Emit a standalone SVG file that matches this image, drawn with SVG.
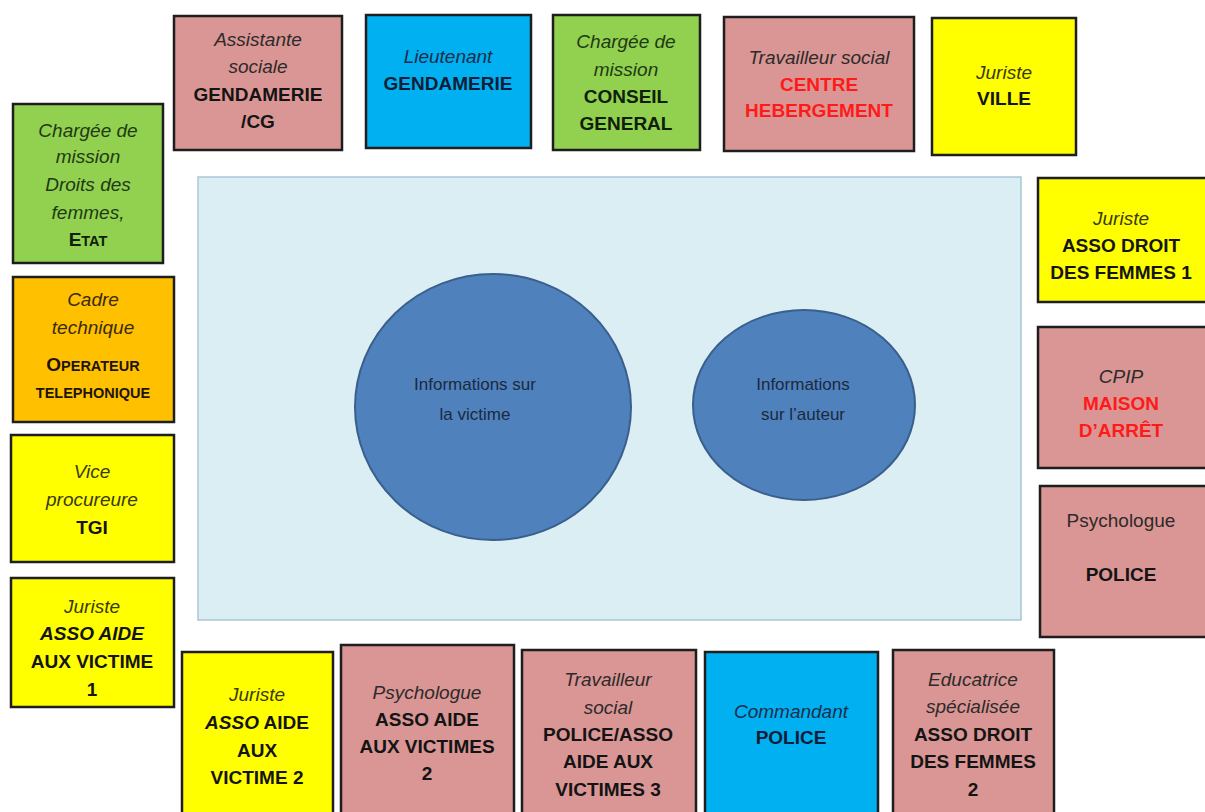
<svg xmlns="http://www.w3.org/2000/svg" width="1205" height="812" viewBox="0 0 1205 812">
<style>
.box{stroke:#1e1e1e;stroke-width:2.5}
.pink{fill:#d99694}.blue{fill:#00b0f0}.green{fill:#92d050}.yellow{fill:#ffff00}.orange{fill:#ffc000}
text{font-family:"Liberation Sans",Arial,sans-serif;font-size:19px;text-anchor:middle}
.i{font-style:italic;fill:#2e2a2a}
.b{font-weight:bold;fill:#141414}
.r{fill:#ff1a1a}
.c{font-size:17px;fill:#1b2a3e}
.sc{font-size:14.5px}
</style>
<rect x="0" y="0" width="1205" height="812" fill="#ffffff"/>
<g id="center-area">
<rect x="198" y="177" width="823" height="443" fill="#dbeef4" stroke="#a9c6d6" stroke-width="1.5"/>
</g>
<g id="victime">
<ellipse cx="493" cy="407" rx="138" ry="133" fill="#4f81bd" stroke="#3a5f8c" stroke-width="2"/>
<text class="c" x="475" y="390">Informations sur</text>
<text class="c" x="475" y="420">la victime</text>
</g>
<g id="auteur">
<ellipse cx="804" cy="405" rx="111" ry="95" fill="#4f81bd" stroke="#3a5f8c" stroke-width="2"/>
<text class="c" x="803" y="390">Informations</text>
<text class="c" x="803" y="420">sur l’auteur</text>
</g>
<g id="connectors"></g>

<g id="assistante-sociale">
<rect class="box pink" x="174" y="16" width="168" height="134"/>
<text class="i" x="258" y="46">Assistante</text>
<text class="i" x="258" y="73">sociale</text>
<text class="b" x="258" y="101">GENDAMERIE</text>
<text class="b" x="258" y="128">/CG</text>
</g>
<g id="lieutenant">
<rect class="box blue" x="366" y="15" width="165" height="133"/>
<text class="i" x="448" y="63" style="fill:#1c2e4c">Lieutenant</text>
<text class="b" x="448" y="90" style="fill:#0f1e36">GENDAMERIE</text>
</g>
<g id="charge-conseil">
<rect class="box green" x="553" y="15" width="147" height="135"/>
<text class="i" x="626" y="48" style="fill:#1e3a14">Chargée de</text>
<text class="i" x="626" y="76" style="fill:#1e3a14">mission</text>
<text class="b" x="626" y="103" style="fill:#0f200a">CONSEIL</text>
<text class="b" x="626" y="130" style="fill:#0f200a">GENERAL</text>
</g>
<g id="travailleur-centre">
<rect class="box pink" x="724" y="17" width="190" height="134"/>
<text class="i" x="819" y="64">Travailleur social</text>
<text class="b r" x="819" y="91">CENTRE</text>
<text class="b r" x="819" y="117">HEBERGEMENT</text>
</g>
<g id="juriste-ville">
<rect class="box yellow" x="932" y="18" width="144" height="137"/>
<text class="i" x="1004" y="79" style="fill:#3a3a10">Juriste</text>
<text class="b" x="1004" y="105">VILLE</text>
</g>

<g id="charge-droits-femmes">
<rect class="box green" x="13" y="104" width="150" height="159"/>
<text class="i" x="88" y="137" style="fill:#1e3a14">Chargée de</text>
<text class="i" x="88" y="163" style="fill:#1e3a14">mission</text>
<text class="i" x="88" y="191" style="fill:#1e3a14">Droits des</text>
<text class="i" x="88" y="219" style="fill:#1e3a14">femmes,</text>
<text class="b" x="88" y="246" style="fill:#0f200a">E<tspan class="sc">TAT</tspan></text>
</g>
<g id="cadre-technique">
<rect class="box orange" x="13" y="277" width="161" height="145"/>
<text class="i" x="93" y="306" style="fill:#3a2a10">Cadre</text>
<text class="i" x="93" y="334" style="fill:#3a2a10">technique</text>
<text class="b" x="93" y="371" style="fill:#1e1408">O<tspan class="sc">PERATEUR</tspan></text>
<text class="b sc" x="93" y="398" style="fill:#1e1408">TELEPHONIQUE</text>
</g>
<g id="vice-procureure">
<rect class="box yellow" x="11" y="435" width="163" height="127"/>
<text class="i" x="92" y="478" style="fill:#3a3a10">Vice</text>
<text class="i" x="92" y="506" style="fill:#3a3a10">procureure</text>
<text class="b" x="92" y="534">TGI</text>
</g>
<g id="juriste-asso-1">
<rect class="box yellow" x="11" y="578" width="163" height="129"/>
<text class="i" x="92" y="613" style="fill:#3a3a10">Juriste</text>
<text class="b i" x="92" y="640" style="fill:#141414">ASSO AIDE</text>
<text class="b" x="92" y="668">AUX VICTIME</text>
<text class="b" x="92" y="696">1</text>
</g>

<g id="juriste-droit-femmes-1">
<rect class="box yellow" x="1038" y="178" width="172" height="124"/>
<text class="i" x="1121" y="225" style="fill:#3a3a10">Juriste</text>
<text class="b" x="1121" y="252">ASSO DROIT</text>
<text class="b" x="1121" y="279">DES FEMMES 1</text>
</g>
<g id="cpip">
<rect class="box pink" x="1038" y="327" width="172" height="141"/>
<text class="i" x="1121" y="383">CPIP</text>
<text class="b r" x="1121" y="410">MAISON</text>
<text class="b r" x="1121" y="437">D’ARRÊT</text>
</g>
<g id="psychologue-police">
<rect class="box pink" x="1040" y="486" width="170" height="151"/>
<text x="1121" y="527" style="fill:#2e2a2a">Psychologue</text>
<text class="b" x="1121" y="581">POLICE</text>
</g>

<g id="juriste-asso-2">
<rect class="box yellow" x="182" y="652" width="151" height="170"/>
<text class="i" x="257" y="701" style="fill:#3a3a10">Juriste</text>
<text class="b" x="257" y="729"><tspan font-style="italic">ASSO</tspan> AIDE</text>
<text class="b" x="257" y="757">AUX</text>
<text class="b" x="257" y="784">VICTIME 2</text>
</g>
<g id="psychologue-asso-2">
<rect class="box pink" x="341" y="645" width="173" height="177"/>
<text class="i" x="427" y="699">Psychologue</text>
<text class="b" x="427" y="726">ASSO AIDE</text>
<text class="b" x="427" y="753">AUX VICTIMES</text>
<text class="b" x="427" y="780">2</text>
</g>
<g id="travailleur-police-asso">
<rect class="box pink" x="522" y="650" width="174" height="172"/>
<text class="i" x="608" y="686">Travailleur</text>
<text class="i" x="608" y="714">social</text>
<text class="b" x="608" y="741">POLICE/ASSO</text>
<text class="b" x="608" y="768">AIDE AUX</text>
<text class="b" x="608" y="796">VICTIMES 3</text>
</g>
<g id="commandant">
<rect class="box blue" x="705" y="652" width="173" height="170"/>
<text class="i" x="791" y="718" style="fill:#1c2e4c">Commandant</text>
<text class="b" x="791" y="744" style="fill:#0f1e36">POLICE</text>
</g>
<g id="educatrice">
<rect class="box pink" x="893" y="650" width="161" height="172"/>
<text class="i" x="973" y="686">Educatrice</text>
<text class="i" x="973" y="713">spécialisée</text>
<text class="b" x="973" y="741">ASSO DROIT</text>
<text class="b" x="973" y="768">DES FEMMES</text>
<text class="b" x="973" y="796">2</text>
</g>
</svg>
